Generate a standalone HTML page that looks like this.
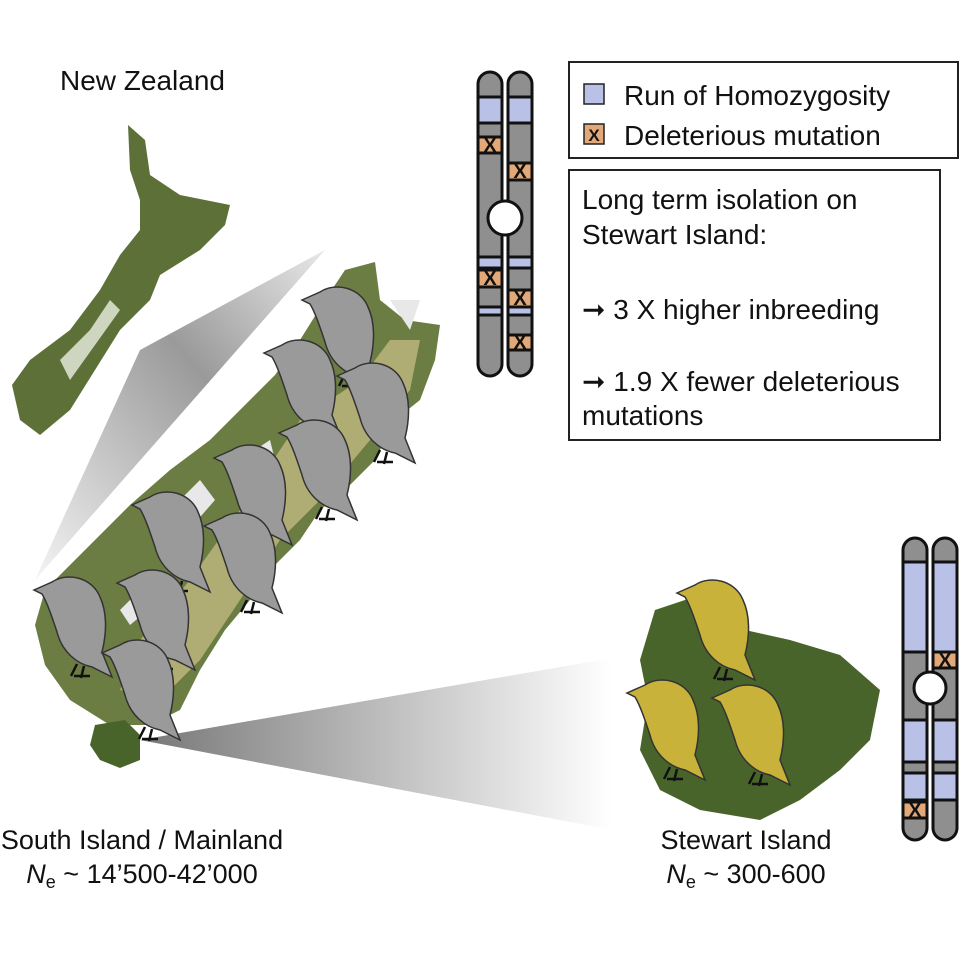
<!DOCTYPE html>
<html><head><style>body{margin:0;background:#fff}svg{display:block}text{font-family:"Liberation Sans",sans-serif;fill:#111}</style></head><body>
<svg width="960" height="960" viewBox="0 0 960 960" xmlns="http://www.w3.org/2000/svg">
<defs>
<linearGradient id="g1" x1="0" y1="1" x2="1" y2="0"><stop offset="0" stop-color="#f4f4f4"/><stop offset="0.6" stop-color="#9a9a9a"/><stop offset="1" stop-color="#e8e8e8"/></linearGradient>
<linearGradient id="g2" x1="0" y1="0" x2="1" y2="0"><stop offset="0" stop-color="#777"/><stop offset="1" stop-color="#fff"/></linearGradient>
<g id="bird"><path d="M0,0 C15,-10 40,-5 48,15 C55,30 55,50 50,70 L60,95 L40,85 C25,82 10,70 5,50 C0,35 -5,20 -10,12 L-18,8 Z" stroke="#333" stroke-width="1.5"/><path d="M25,82 l-6,12 M32,84 l-3,12 M22,94 h16" stroke="#111" stroke-width="2.5" fill="none"/></g>
</defs>
<text x="60" y="90" font-size="28">New Zealand</text>
<!-- North Island -->
<path d="M128,125 L145,140 L150,175 L180,195 L230,205 L225,225 L200,250 L160,275 L150,300 L120,330 L95,370 L70,410 L40,435 L20,420 L12,385 L30,360 L70,330 L100,290 L120,255 L140,230 L140,200 L130,170 Z" fill="#5d7038"/>
<path d="M60,360 L90,330 L110,300 L120,310 L95,345 L70,380 Z" fill="#cfd6c0"/>
<!-- wedges -->
<path d="M140,350 L325,250 L35,580 Z" fill="url(#g1)"/>
<path d="M140,740 L612,658 L612,830 Z" fill="url(#g2)"/>
<!-- South Island -->
<path d="M345,270 L375,262 L380,300 L405,320 L440,325 L435,360 L420,400 L395,420 L375,460 L345,490 L320,510 L300,540 L270,570 L250,600 L225,630 L200,670 L180,710 L150,725 L110,725 L70,700 L45,665 L35,625 L45,590 L90,545 L130,505 L170,470 L210,440 L245,405 L275,375 L300,340 L325,300 Z" fill="#6b7d42"/>
<path d="M300,420 L360,380 L390,340 L420,340 L410,390 L370,440 L320,500 L280,540 L240,600 L200,660 L160,700 L120,690 L140,640 L190,580 L240,510 Z" fill="#b8b27a" opacity="0.9"/>
<path d="M160,520 L200,480 L215,500 L180,540 Z M120,610 L150,580 L160,600 L130,625 Z M240,460 L270,440 L275,460 L250,475 Z M390,300 L420,300 L410,330 Z" fill="#e8e8e8"/>
<!-- small Stewart -->
<path d="M95,725 L125,720 L140,735 L140,760 L120,768 L100,760 L90,745 Z" fill="#48642a"/>
<!-- big Stewart -->
<path d="M655,610 L700,595 L745,630 L790,640 L840,655 L880,690 L870,740 L840,770 L800,800 L760,820 L700,810 L660,790 L640,750 L648,700 L640,660 Z" fill="#48642a"/>
<!-- grey birds -->
<g fill="#9a9a9a">
<use href="#bird" x="320" y="292"/><use href="#bird" x="282" y="345"/><use href="#bird" x="355" y="368"/>
<use href="#bird" x="297" y="425"/><use href="#bird" x="232" y="450"/><use href="#bird" x="150" y="497"/>
<use href="#bird" x="222" y="518"/><use href="#bird" x="135" y="575"/><use href="#bird" x="52" y="582"/>
<use href="#bird" x="120" y="645"/>
</g>
<g fill="#c8b23a">
<use href="#bird" x="695" y="585"/><use href="#bird" x="645" y="685"/><use href="#bird" x="730" y="690"/>
</g>
<!-- top chromosome -->
<g stroke="#111" stroke-width="3">
<rect x="478" y="72" width="24" height="304" rx="12" fill="#8f8f8f"/>
<rect x="508" y="72" width="24" height="304" rx="12" fill="#8f8f8f"/>
<g fill="#b9c2e6"><rect x="478" y="97" width="24" height="26"/><rect x="508" y="97" width="24" height="26"/>
<rect x="478" y="257" width="24" height="11"/><rect x="508" y="257" width="24" height="11"/>
<rect x="478" y="307" width="24" height="8"/><rect x="508" y="307" width="24" height="8"/></g>
<g fill="#e2a878"><rect x="478" y="137" width="24" height="16"/><rect x="508" y="163" width="24" height="17"/>
<rect x="478" y="270" width="24" height="17"/><rect x="508" y="290" width="24" height="17"/><rect x="508" y="335" width="24" height="15"/></g>
<circle cx="505" cy="218" r="17" fill="#fff"/>
</g>
<g font-size="20" font-weight="bold" text-anchor="middle"><text x="490" y="152">X</text><text x="520" y="178">X</text><text x="490" y="285">X</text><text x="520" y="305">X</text><text x="520" y="349">X</text></g>
<!-- bottom chromosome -->
<g stroke="#111" stroke-width="3">
<rect x="903" y="538" width="24" height="302" rx="12" fill="#8f8f8f"/>
<rect x="933" y="538" width="24" height="302" rx="12" fill="#8f8f8f"/>
<g fill="#b9c2e6"><rect x="903" y="562" width="24" height="90"/><rect x="933" y="562" width="24" height="90"/>
<rect x="903" y="720" width="24" height="42"/><rect x="933" y="720" width="24" height="42"/>
<rect x="903" y="773" width="24" height="27"/><rect x="933" y="773" width="24" height="27"/></g>
<g fill="#e2a878"><rect x="933" y="652" width="24" height="16"/><rect x="903" y="802" width="24" height="16"/></g>
<circle cx="930" cy="688" r="16" fill="#fff"/>
</g>
<g font-size="20" font-weight="bold" text-anchor="middle"><text x="945" y="667">X</text><text x="915" y="817">X</text></g>
<!-- legend -->
<rect x="569" y="62" width="389" height="96" fill="#fff" stroke="#222" stroke-width="2"/>
<rect x="584" y="84" width="20" height="20" fill="#b9c2e6" stroke="#222" stroke-width="1.5"/>
<rect x="584" y="124" width="20" height="20" fill="#e2a878" stroke="#222" stroke-width="1.5"/>
<text x="594" y="141" font-size="17" font-weight="bold" text-anchor="middle">X</text>
<text x="624" y="105" font-size="28">Run of Homozygosity</text>
<text x="624" y="145" font-size="28">Deleterious mutation</text>
<rect x="569" y="170" width="371" height="270" fill="#fff" stroke="#222" stroke-width="2"/>
<g font-size="28"><text x="582" y="209">Long term isolation on</text><text x="582" y="244">Stewart Island:</text>
<text x="582" y="319">➞ 3 X higher inbreeding</text><text x="582" y="391">➞ 1.9 X fewer  deleterious</text><text x="582" y="425">mutations</text></g>
<g font-size="27" text-anchor="middle">
<text x="142" y="849">South Island / Mainland</text>
<text x="142" y="883"><tspan font-style="italic">N</tspan><tspan font-size="18" dy="5">e</tspan><tspan dy="-5"> ~ 14’500-42’000</tspan></text>
<text x="746" y="849" fill="#333">Stewart Island</text>
<text x="746" y="883"><tspan font-style="italic">N</tspan><tspan font-size="18" dy="5">e</tspan><tspan dy="-5"> ~ 300-600</tspan></text>
</g>
</svg>
</body></html>
